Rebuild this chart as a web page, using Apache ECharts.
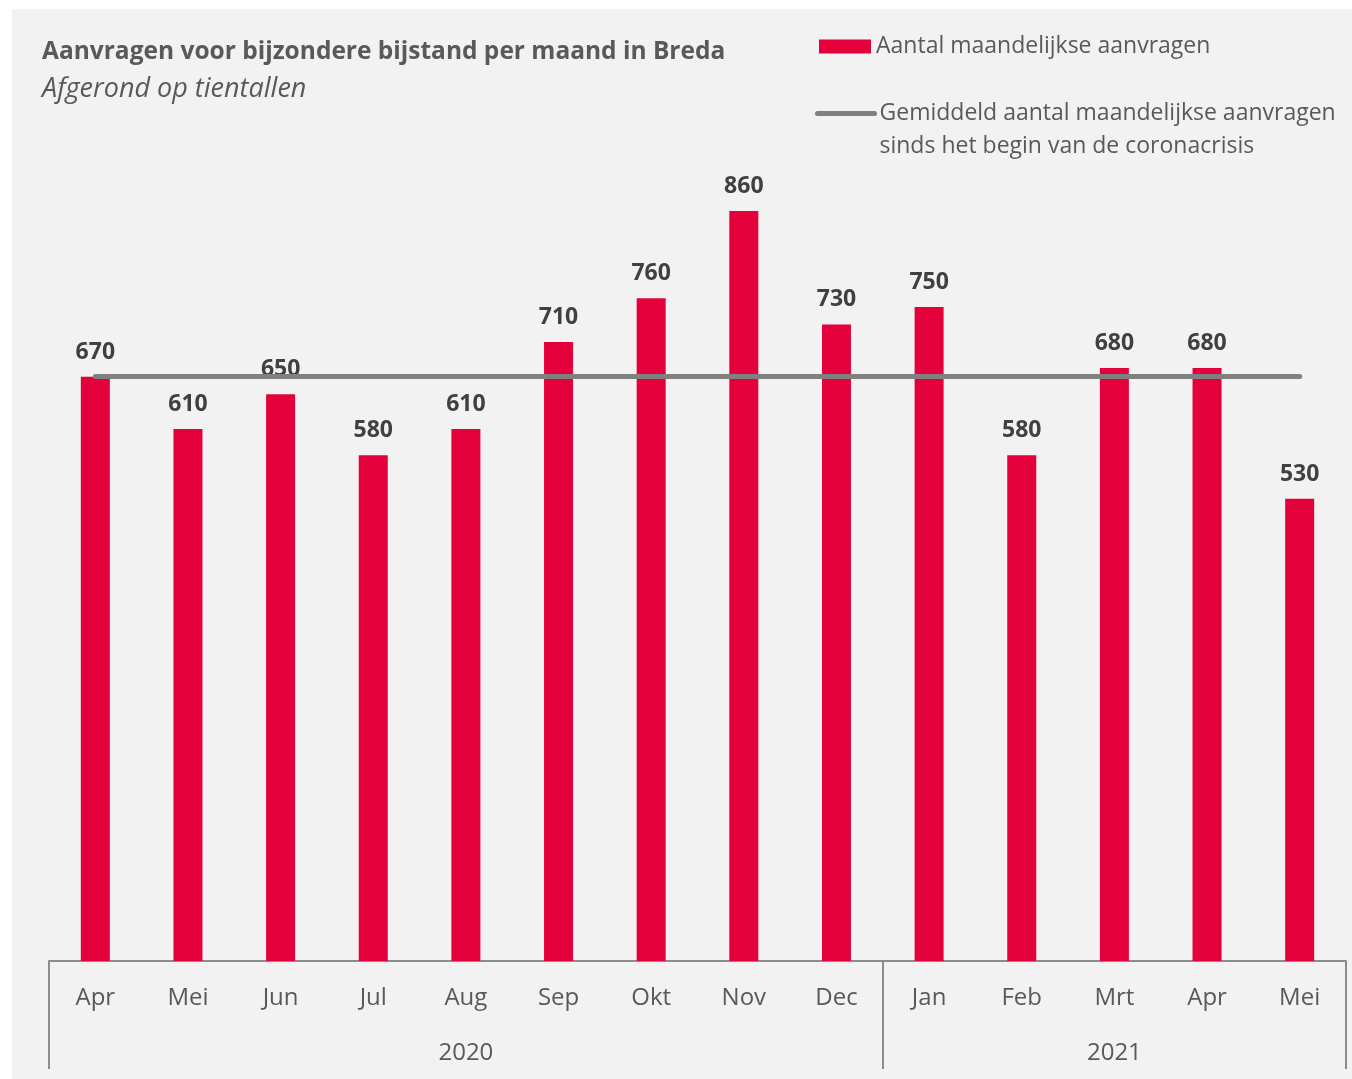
<!DOCTYPE html>
<html>
<head>
<meta charset="utf-8">
<script src="https://cdn.jsdelivr.net/npm/echarts@6/dist/echarts.min.js"></script>
<style>
  html, body { margin: 0; padding: 0; background: #ffffff; }
  #bg { position: absolute; left: 12px; top: 9px; width: 1340px; height: 1070px; background: #f2f2f2; }
  #chart { position: absolute; left: 0; top: 0; width: 1352px; height: 1079px; }
</style>
</head>
<body>
<div id="bg"></div>
<div id="chart"></div>
<script>
const titleText = 'Aanvragen voor bijzondere bijstand per maand in Breda';
const subtitleText = 'Afgerond op tientallen';
const months = ['Apr', 'Mei', 'Jun', 'Jul', 'Aug', 'Sep', 'Okt', 'Nov', 'Dec', 'Jan', 'Feb', 'Mrt', 'Apr', 'Mei'];
const requests = [670, 610, 650, 580, 610, 710, 760, 860, 730, 750, 580, 680, 680, 530];
const years = ['2020', '2021'];
const monthsPerYear = [9, 5];
const averageRequests = 671;
const barName = 'Aantal maandelijkse aanvragen';
const avgName = 'Gemiddeld aantal maandelijkse aanvragen\nsinds het begin van de coronacrisis';

// year group boundaries and centres (in category units)
const boundaries = [0];
monthsPerYear.forEach(n => boundaries.push(boundaries[boundaries.length - 1] + n));
const yearCenters = years.map((y, i) => (boundaries[i] + boundaries[i + 1]) / 2);

const FONT = 'Open Sans';
const textColor = '#595959';
const axisColor = '#8c8c8c';

const chart = echarts.init(document.getElementById('chart'));
chart.setOption({
  backgroundColor: 'transparent',
  animation: false,
  textStyle: { fontFamily: FONT },
  title: {
    text: titleText,
    subtext: subtitleText,
    left: 37,
    top: 35,
    itemGap: 11,
    textStyle: { fontFamily: FONT, fontSize: 24.5, fontWeight: 'bold', color: textColor },
    subtextStyle: { fontFamily: FONT, fontSize: 27, fontStyle: 'italic', color: textColor }
  },
  legend: [
    {
      data: [{ name: barName, icon: 'rect' }],
      left: 819, top: 35, padding: 0,
      itemWidth: 52, itemHeight: 14,
      textStyle: { fontFamily: FONT, fontSize: 23, color: textColor }
    },
    {
      data: [{ name: avgName }],
      left: 815, top: 64, padding: 0,
      itemWidth: 57, itemHeight: 14,
      formatter: name => '\n' + name,
      itemStyle: { opacity: 0 },
      lineStyle: { width: 5, cap: 'round', color: '#808080' },
      textStyle: { fontFamily: FONT, fontSize: 23, color: textColor, lineHeight: 33 }
    }
  ],
  grid: { left: 49, right: 6, top: 89, bottom: 118, containLabel: false },
  xAxis: [
    {
      type: 'category',
      data: months,
      axisLine: { show: true, lineStyle: { color: axisColor, width: 2 } },
      axisTick: { show: false },
      axisLabel: { fontFamily: FONT, fontSize: 24, color: textColor, margin: 25 }
    },
    {
      type: 'value',
      position: 'bottom',
      min: 0,
      max: boundaries[boundaries.length - 1],
      axisLine: { show: false },
      splitLine: { show: false },
      axisTick: { show: true, customValues: boundaries, length: 108, lineStyle: { color: axisColor, width: 2 } },
      axisLabel: {
        customValues: yearCenters,
        fontFamily: FONT, fontSize: 24, color: textColor, margin: 80,
        formatter: v => years[yearCenters.indexOf(v)]
      }
    }
  ],
  yAxis: {
    type: 'value', min: 0, max: 1000, show: false,
    splitLine: { show: false }
  },
  series: [
    {
      name: barName,
      type: 'bar',
      data: requests,
      barWidth: 29,
      z: 2,
      itemStyle: { color: '#e4003a' },
      label: {
        show: true, position: 'top', distance: 13,
        fontFamily: FONT, fontSize: 23, fontWeight: 'bold', color: '#404040'
      }
    },
    {
      name: avgName,
      type: 'line',
      data: [],
      symbol: 'none',
      z: 3,
      lineStyle: { color: '#808080', width: 5, cap: 'round' },
      itemStyle: { color: '#808080' },
      markLine: {
        silent: true,
        symbol: ['none', 'none'],
        label: { show: false },
        lineStyle: { color: '#808080', width: 5, type: 'solid', cap: 'round' },
        data: [[{ coord: [0, averageRequests] }, { coord: [months.length - 1, averageRequests] }]]
      }
    }
  ]
});
</script>
</body>
</html>
